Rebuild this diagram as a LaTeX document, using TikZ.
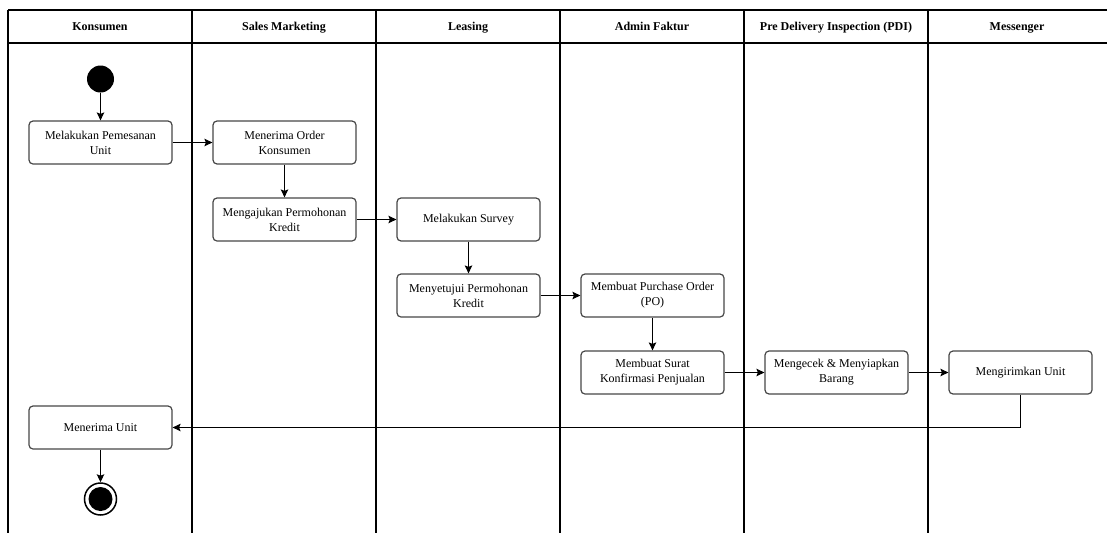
\documentclass[tikz,border=0pt]{standalone}
\usepackage{fontspec}
\setmainfont{Liberation Serif}
\usetikzlibrary{arrows.meta}
\begin{document}
\begin{tikzpicture}[x=1pt,y=-1pt,
  lane/.style={line width=1.3pt,black},
  lanehead/.style={font=\fontsize{12}{15}\selectfont\bfseries,anchor=center,
    text height=8.5pt,text depth=2.5pt,inner sep=0pt},
  act/.style={draw=black!72,line width=1.2pt,rounded corners=4pt,fill=white,
    minimum width=143pt,minimum height=43pt,align=center,inner sep=2pt,
    font=\fontsize{12}{15}\selectfont},
  startnode/.style={circle,fill=black,minimum size=27pt,inner sep=0pt},
  endring/.style={circle,draw=black,line width=1.5pt,fill=white,minimum size=32pt,inner sep=0pt},
  endcore/.style={circle,fill=black,minimum size=24pt,inner sep=0pt},
  flow/.style={line width=1.1pt,black,-{Stealth[length=8pt,width=7.5pt,inset=1.5pt]}}
]
\useasboundingbox (0,0) rectangle (1107,533);

% swimlane frame
\draw[lane] (8,10) -- (1107,10);
\draw[lane] (8,43) -- (1107,43);
\foreach \xx in {8,192,376,560,744,928}
  \draw[lane] (\xx,10) -- (\xx,533);

% lane titles
\node[lanehead] (hK) at (100,27) {Konsumen};
\node[lanehead] (hS) at (284,27) {Sales Marketing};
\node[lanehead] (hL) at (468,27) {Leasing};
\node[lanehead] (hA) at (652,27) {Admin Faktur};
\node[lanehead] (hP) at (836,27) {Pre Delivery Inspection (PDI)};
\node[lanehead] (hM) at (1017,27) {Messenger};

% activities
\node[startnode] (start) at (100.5,79) {};
\node[act] (a1) at (100.5,142.5) {Melakukan Pemesanan\\Unit};
\node[act] (b1) at (284.5,142.5) {Menerima Order\\Konsumen};
\node[act] (b2) at (284.5,219.5) {Mengajukan Permohonan\\Kredit};
\node[act] (c1) at (468.5,219.5) {Melakukan Survey};
\node[act] (c2) at (468.5,295.5) {Menyetujui Permohonan\\Kredit};
\node[act] (d1) at (652.5,295.5) {Membuat Purchase Order\\(PO)};
\node[act] (d2) at (652.5,372.5) {Membuat Surat\\Konfirmasi Penjualan};
\node[act] (e1) at (836.5,372.5) {Mengecek \& Menyiapkan\\Barang};
\node[act] (f1) at (1020.5,372.5) {Mengirimkan Unit};
\node[act] (a2) at (100.5,427.5) {Menerima Unit};
\node[endring] (end) at (100.5,499) {};
\node[endcore] (endc) at (100.5,499) {};

% control flow
\draw[flow] (start) -- (a1);
\draw[flow] (a1) -- (b1);
\draw[flow] (b1) -- (b2);
\draw[flow] (b2) -- (c1);
\draw[flow] (c1) -- (c2);
\draw[flow] (c2) -- (d1);
\draw[flow] (d1) -- (d2);
\draw[flow] (d2) -- (e1);
\draw[flow] (e1) -- (f1);
\draw[flow] (f1.south) |- (a2.east);
\draw[flow] (a2) -- (end);
\end{tikzpicture}
\end{document}
